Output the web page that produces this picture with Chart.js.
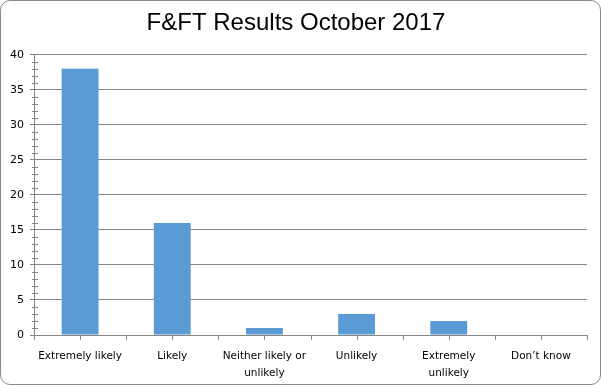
<!DOCTYPE html>
<html lang="en">
<head>
    <meta charset="UTF-8">
    <title>F&amp;FT Results October 2017</title>
    <script src="https://cdn.jsdelivr.net/npm/chart.js@4.4.0/dist/chart.umd.min.js"></script>
    <style>
        html, body { margin: 0; padding: 0; background: #fff; }
        #wrap {
            width: 601px; height: 385px; box-sizing: border-box;
            border: 1px solid #8a8a8a; border-radius: 10px; background: #fff;
            position: relative; overflow: hidden;
        }
        #wrap canvas { position: absolute; left: 0; top: 0; }
    </style>
</head>
<body>
    <div id="wrap"><canvas id="chart" width="599" height="383"></canvas></div>
    <script>
        const categories = ['Extremely likely', 'Likely', ['Neither likely or', 'unlikely'], 'Unlikely', ['Extremely', 'unlikely'], 'Don\u2019t know'];
        const responses = [38, 16, 1, 3, 2, 0];
        const yMin = 0, yMax = 40, yMajor = 5;

        const axisGrey = '#868686';

        // small extra tick marks like the spreadsheet original
        const tickMarks = {
            id: 'tickMarks',
            afterDraw(chart) {
                const { ctx, scales: { x, y } } = chart;
                ctx.save();
                ctx.strokeStyle = axisGrey;
                ctx.lineWidth = 1;
                ctx.beginPath();
                // y minor ticks, crossing the axis
                for (let v = yMin; v <= yMax; v++) {
                    if (v % yMajor === 0) continue;
                    const py = Math.round(y.getPixelForValue(v)) + 0.5;
                    ctx.moveTo(x.left - 2, py);
                    ctx.lineTo(x.left + 4, py);
                }
                // x ticks at category edges and centres
                const n = categories.length;
                const step = (x.right - x.left) / n;
                for (let i = 0; i <= 2 * n; i++) {
                    const px = Math.round(x.left + i * step / 2) + 0.5;
                    ctx.moveTo(px, y.bottom);
                    ctx.lineTo(px, y.bottom + 5);
                }
                ctx.stroke();
                ctx.restore();
            }
        };

        new Chart(document.getElementById('chart'), {
            type: 'bar',
            data: {
                labels: categories,
                datasets: [{
                    data: responses,
                    backgroundColor: '#5b9bd5',
                    barPercentage: 0.4,
                    categoryPercentage: 1.0
                }]
            },
            options: {
                responsive: false,
                animation: false,
                layout: { padding: { left: 4, right: 13, top: 0, bottom: 0 } },
                plugins: {
                    legend: { display: false },
                    tooltip: { enabled: false },
                    title: {
                        display: true,
                        text: 'F&FT Results October 2017',
                        color: '#000',
                        font: { family: 'Liberation Sans', size: 24, weight: 'normal' },
                        padding: { top: 8, bottom: 17 }
                    }
                },
                scales: {
                    x: {
                        afterFit(scale) { scale.height = 49; },
                        grid: { display: true, drawOnChartArea: false, drawTicks: false },
                        border: { display: true, color: axisGrey },
                        ticks: {
                            color: '#000',
                            padding: 13,
                            maxRotation: 0,
                            autoSkip: false,
                            font: { family: 'DejaVu Sans', size: 10.5, lineHeight: 1.6 }
                        }
                    },
                    y: {
                        min: yMin, max: yMax,
                        afterFit(scale) { scale.width = 29; },
                        ticks: {
                            stepSize: 1,
                            autoSkip: false,
                            color: '#000',
                            padding: 6,
                            font: { family: 'DejaVu Sans', size: 11 },
                            callback: (v) => (v % yMajor === 0 ? v : '')
                        },
                        grid: {
                            color: (c) => (c.tick && c.tick.value % yMajor === 0 ? axisGrey : 'rgba(0,0,0,0)'),
                            tickLength: 4
                        },
                        border: { display: true, color: axisGrey }
                    }
                }
            },
            plugins: [tickMarks]
        });
    </script>
</body>
</html>
